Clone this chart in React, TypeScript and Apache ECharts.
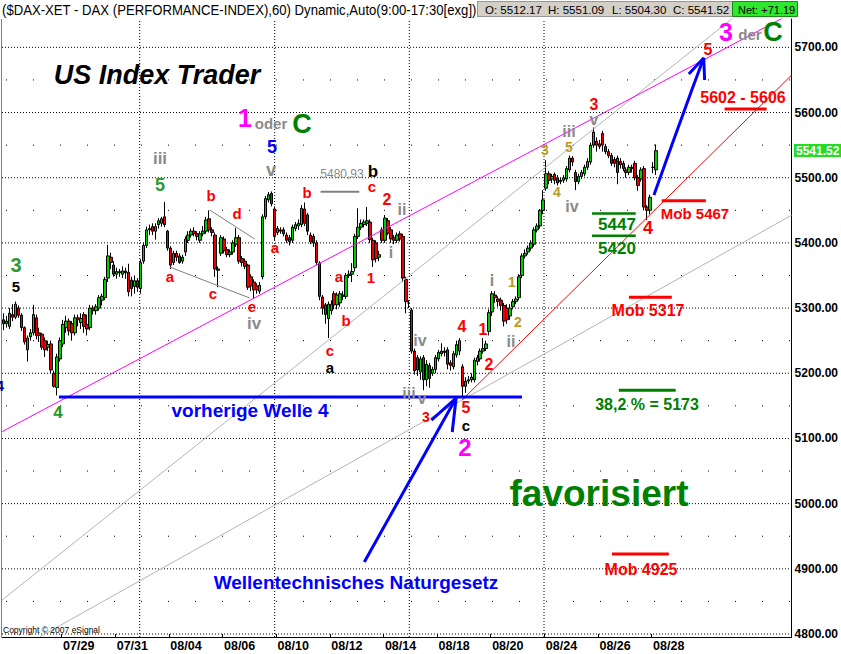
import React, { useEffect, useRef } from 'react';
import * as echarts from 'echarts';

// ---------- data ----------
const dateLabels = ['07/29', '07/31', '08/04', '08/06', '08/10', '08/12', '08/14', '08/18', '08/20', '08/24', '08/26', '08/28'];
const yTicks = [4800, 4900, 5000, 5100, 5200, 5300, 5400, 5500, 5600, 5700];
const halfLevels = [4850, 4950, 5050, 5150, 5250, 5350, 5450, 5550, 5650];

// hourly candles [open, close, low, high]
const ohlc: number[][] = [
  [5282, 5276, 5266, 5292], [5276, 5280, 5270, 5288], [5272, 5292, 5268, 5300], [5290, 5286, 5280, 5306],
  [5286, 5306, 5283, 5310], [5300, 5289, 5285, 5304], [5289, 5270, 5265, 5292], [5270, 5248, 5244, 5272],
  [5236, 5254, 5218, 5258], [5256, 5262, 5250, 5268], [5262, 5290, 5258, 5305], [5285, 5258, 5252, 5290],
  [5262, 5258, 5248, 5270], [5260, 5240, 5236, 5262], [5250, 5236, 5225, 5255], [5240, 5244, 5234, 5250],
  [5245, 5205, 5200, 5250], [5200, 5180, 5178, 5204], [5178, 5225, 5166, 5230], [5222, 5250, 5218, 5255],
  [5245, 5275, 5240, 5282], [5270, 5280, 5262, 5288], [5280, 5265, 5258, 5284], [5276, 5262, 5250, 5280],
  [5262, 5285, 5258, 5290], [5285, 5282, 5272, 5290], [5278, 5284, 5268, 5292], [5290, 5272, 5262, 5294],
  [5275, 5268, 5258, 5290], [5270, 5300, 5266, 5305], [5300, 5296, 5290, 5304], [5296, 5302, 5290, 5306],
  [5300, 5316, 5296, 5320], [5312, 5318, 5304, 5322], [5316, 5344, 5312, 5348], [5346, 5380, 5340, 5397],
  [5378, 5370, 5360, 5385], [5366, 5352, 5348, 5372], [5352, 5356, 5345, 5362], [5356, 5354, 5348, 5360],
  [5352, 5357, 5346, 5364], [5357, 5354, 5345, 5362], [5355, 5325, 5318, 5368], [5343, 5330, 5318, 5348],
  [5333, 5342, 5322, 5350], [5342, 5332, 5325, 5346], [5330, 5370, 5322, 5375], [5372, 5396, 5368, 5400],
  [5396, 5420, 5392, 5425], [5420, 5422, 5412, 5428], [5425, 5418, 5412, 5430], [5418, 5425, 5405, 5430],
  [5428, 5434, 5422, 5438], [5430, 5437, 5425, 5440], [5440, 5428, 5424, 5463], [5418, 5392, 5388, 5420],
  [5392, 5366, 5360, 5395], [5370, 5384, 5366, 5388], [5384, 5378, 5372, 5388], [5380, 5370, 5368, 5384],
  [5372, 5378, 5368, 5382], [5386, 5406, 5380, 5410], [5404, 5412, 5400, 5418], [5412, 5418, 5408, 5422],
  [5418, 5414, 5410, 5424], [5414, 5410, 5404, 5418], [5404, 5414, 5400, 5418], [5414, 5418, 5410, 5426],
  [5418, 5435, 5414, 5440], [5437, 5420, 5416, 5450], [5420, 5416, 5410, 5424], [5412, 5360, 5348, 5416],
  [5360, 5358, 5332, 5364], [5384, 5408, 5380, 5412], [5406, 5388, 5384, 5410], [5390, 5382, 5378, 5394],
  [5382, 5386, 5378, 5390], [5386, 5400, 5382, 5404], [5398, 5408, 5394, 5423], [5408, 5372, 5368, 5412],
  [5376, 5370, 5364, 5380], [5372, 5364, 5360, 5376], [5366, 5332, 5328, 5368], [5348, 5334, 5326, 5352],
  [5340, 5328, 5315, 5344], [5334, 5328, 5322, 5338], [5326, 5335, 5322, 5340], [5348, 5440, 5344, 5444],
  [5440, 5468, 5436, 5472], [5466, 5474, 5462, 5478], [5476, 5460, 5456, 5479], [5452, 5410, 5404, 5456],
  [5416, 5422, 5412, 5426], [5420, 5418, 5414, 5424], [5420, 5414, 5410, 5424], [5412, 5404, 5400, 5416],
  [5408, 5402, 5396, 5412], [5404, 5424, 5400, 5428], [5422, 5428, 5418, 5432], [5426, 5430, 5420, 5436],
  [5428, 5453, 5424, 5458], [5452, 5430, 5426, 5462], [5443, 5418, 5412, 5446], [5412, 5402, 5398, 5416],
  [5410, 5400, 5394, 5414], [5400, 5370, 5366, 5404], [5369, 5318, 5312, 5372], [5317, 5300, 5290, 5320],
  [5305, 5290, 5276, 5308], [5284, 5306, 5254, 5310], [5296, 5306, 5290, 5312], [5322, 5305, 5298, 5326],
  [5305, 5320, 5298, 5324], [5308, 5322, 5302, 5326], [5320, 5318, 5312, 5326], [5318, 5350, 5314, 5354],
  [5350, 5352, 5346, 5358], [5352, 5356, 5340, 5369], [5362, 5410, 5356, 5414], [5410, 5424, 5406, 5453],
  [5424, 5430, 5420, 5436], [5428, 5432, 5424, 5436], [5430, 5434, 5426, 5455], [5432, 5405, 5400, 5436],
  [5404, 5374, 5363, 5408], [5400, 5376, 5370, 5404], [5378, 5382, 5372, 5388], [5420, 5404, 5400, 5424],
  [5404, 5438, 5400, 5443], [5434, 5415, 5412, 5438], [5420, 5406, 5400, 5424], [5408, 5404, 5398, 5412],
  [5404, 5412, 5400, 5416], [5414, 5406, 5402, 5418], [5410, 5346, 5340, 5414], [5344, 5310, 5292, 5348],
  [5308, 5308, 5300, 5312], [5297, 5234, 5230, 5300], [5234, 5204, 5198, 5238], [5224, 5205, 5196, 5228],
  [5202, 5222, 5190, 5226], [5224, 5190, 5174, 5228], [5190, 5214, 5180, 5220], [5212, 5192, 5178, 5216],
  [5200, 5206, 5196, 5210], [5206, 5224, 5200, 5228], [5222, 5232, 5218, 5236], [5230, 5234, 5226, 5246],
  [5234, 5232, 5226, 5240], [5236, 5214, 5206, 5240], [5216, 5212, 5204, 5220], [5210, 5230, 5206, 5234],
  [5228, 5244, 5224, 5250], [5234, 5250, 5228, 5254], [5210, 5180, 5162, 5214], [5180, 5188, 5170, 5194],
  [5188, 5190, 5184, 5196], [5190, 5194, 5186, 5200], [5190, 5220, 5186, 5224], [5218, 5224, 5212, 5228],
  [5222, 5234, 5218, 5238], [5234, 5238, 5230, 5254], [5238, 5245, 5234, 5250], [5264, 5293, 5258, 5298],
  [5294, 5322, 5288, 5326], [5320, 5316, 5308, 5326], [5314, 5310, 5302, 5318], [5312, 5304, 5296, 5316],
  [5304, 5280, 5272, 5308], [5300, 5282, 5276, 5306], [5288, 5300, 5282, 5306], [5302, 5310, 5298, 5314],
  [5310, 5314, 5306, 5318], [5316, 5348, 5312, 5352], [5350, 5380, 5346, 5384], [5380, 5384, 5376, 5390],
  [5386, 5392, 5382, 5396], [5392, 5400, 5388, 5404], [5398, 5420, 5394, 5424], [5420, 5426, 5416, 5430],
  [5426, 5450, 5422, 5452], [5450, 5466, 5444, 5481], [5484, 5506, 5480, 5527], [5506, 5496, 5490, 5510],
  [5498, 5502, 5492, 5506], [5505, 5496, 5490, 5508], [5500, 5492, 5488, 5504], [5494, 5496, 5490, 5500],
  [5496, 5500, 5492, 5504], [5498, 5514, 5494, 5518], [5512, 5530, 5508, 5534], [5530, 5524, 5518, 5533],
  [5508, 5494, 5481, 5512], [5494, 5502, 5490, 5506], [5502, 5508, 5498, 5512], [5506, 5516, 5502, 5520],
  [5516, 5525, 5512, 5530], [5524, 5550, 5520, 5554], [5550, 5570, 5546, 5577], [5556, 5550, 5540, 5562],
  [5552, 5548, 5544, 5558], [5568, 5550, 5540, 5572], [5548, 5540, 5536, 5552], [5540, 5534, 5530, 5544],
  [5534, 5522, 5518, 5538], [5528, 5522, 5516, 5532], [5530, 5508, 5490, 5534], [5525, 5520, 5514, 5530],
  [5522, 5514, 5510, 5526], [5512, 5508, 5500, 5516], [5508, 5516, 5504, 5520], [5516, 5514, 5508, 5520],
  [5522, 5500, 5496, 5526], [5500, 5488, 5480, 5504], [5498, 5512, 5494, 5516], [5514, 5455, 5450, 5518],
  [5455, 5450, 5435, 5458], [5450, 5470, 5444, 5474], [5516, 5516, 5507, 5524], [5512.17, 5541.52, 5504.3, 5551.09],
];

const lastBar = { open: 5512.17, high: 5551.09, low: 5504.3, close: 5541.52, net: 71.19 };

// ---------- layout constants ----------
const N = 265; // slots on the time axis (incl. empty space on the right)
const Y_MIN = 4795.4;
const Y_MAX = 5743.5;
const FF = '"Liberation Sans", Arial, Helvetica, sans-serif';
const FN = '"Liberation Sans Narrow", "Arial Narrow", "Liberation Sans", sans-serif';
const categories = Array.from({ length: N }, (_, i) => String(i));
const labelAt = (i: number) => i >= 20 && i <= 218 && (i - 20) % 18 === 0;

// annotation lines in [slot, price]
const magentaLine = [[0, 5110.4], [265, 5752.3]];
const greyUpper = [[0, 4852], [253.9, 5776.4]];
const greyLower = [[12.7, 4795.6], [265, 5442.5]];
const redLine = [[154.4, 5159], [265, 5657.5]];
const welle4 = [[19.1, 5163.6], [174.5, 5163.6]];
const triLow = [[56.3, 5363], [83.1, 5315.5]];
const triHigh = [[69.7, 5450.5], [84.8, 5406]];
const lvl5480 = [[106.9, 5478.6], [119.9, 5478.6]];
const lvl5447 = [[198.0, 5445], [212.7, 5445]];
const lvl5420 = [[198.0, 5411], [212.7, 5411]];
const mob5467 = [[221.4, 5464.7], [236.2, 5464.7]];
const mob5317 = [[210.4, 5316.5], [224.8, 5316.5]];
const lvl5602 = [[242.5, 5605.4], [256.6, 5605.4]];
const fib382 = [[207.0, 5174], [226.1, 5174]];
const mob4925 = [[204.7, 4922.8], [223.8, 4922.8]];
const arrowUp = [[218.8, 5473.5], [224.8, 5550.2], [231.5, 5634.5], [235.5, 5683.6]];
const arrowUpHead = [[230.5, 5659], [235.5, 5683.6], [235.8, 5649.9]];
const arrowLow = [[121.6, 4910.5], [152.4, 5162]];
const arrowLowHead = [[144.1, 5128.3], [152.4, 5162], [151.1, 5109.9]];
const vGrid = [46.2, 91.5, 136.7, 181.9];

const GREY = '#8a8a8a';
const OLIVE = '#bb9a22';
const RED = '#ff0000';
const GREEN = '#008000';
const LGREEN = '#2f9a2f';
const MAG = '#ff00ff';
const BLUE = '#0000ff';

// [x, y, text, color, size, weight]
const notes: [number, number, string, string, number, string?][] = [
  [16, 265, '3', LGREEN, 20], [16, 286, '5', '#000', 15], [58, 412, '4', '#229922', 17], [0, 385, '4', '#000080', 15],
  [160, 158, 'iii', GREY, 17], [160, 185, '5', LGREEN, 18],
  [245, 118, '1', MAG, 25], [271, 123, 'oder', GREY, 15], [302, 124, 'C', GREEN, 27],
  [272, 147, '5', BLUE, 18], [271, 170, 'v', GREY, 18],
  [211, 195, 'b', RED, 15], [237, 213, 'd', RED, 15], [170, 276, 'a', RED, 15], [213, 293, 'c', RED, 15],
  [252, 306, 'e', RED, 15], [254, 323, 'iv', GREY, 17], [275, 247, 'a', RED, 15], [307, 192, 'b', RED, 15],
  [342, 174, '5480,93', GREY, 12, 'normal'], [373, 171, 'b', '#000', 17], [372, 186, 'c', RED, 15],
  [387, 199, '2', RED, 16], [402, 209, 'ii', GREY, 16], [391, 252, 'i', GREY, 16],
  [339, 276, 'a', RED, 15], [371, 277, '1', RED, 15], [346, 320, 'b', RED, 15], [330, 350, 'c', RED, 15],
  [330, 367, 'a', '#000', 15],
  [420, 340, 'iv', GREY, 16], [409, 393, 'iii', GREY, 16], [422, 398, 'v', GREY, 16], [426, 417, '3', RED, 14],
  [466, 407, '5', RED, 16], [466, 425, 'c', '#000', 15], [465, 447, '2', MAG, 24],
  [462, 326, '4', RED, 16], [483, 329, '1', RED, 16], [489, 364, '2', RED, 16], [511, 341, 'ii', GREY, 16],
  [518, 322, '2', OLIVE, 14], [492, 280, 'i', GREY, 16], [512, 282, '1', OLIVE, 14],
  [545, 150, '3', OLIVE, 14], [569, 147, '5', OLIVE, 14], [557, 192, '4', OLIVE, 14], [572, 206, 'iv', GREY, 16],
  [569, 131, 'iii', GREY, 16], [594, 119, 'v', GREY, 16], [594, 104, '3', RED, 16],
  [617, 224, '5447', GREEN, 17], [617, 248, '5420', GREEN, 17], [648, 228, '4', RED, 18],
  [695, 213, 'Mob 5467', RED, 15], [648, 310, 'Mob 5317', RED, 16], [743, 97, '5602 - 5606', RED, 16],
  [708, 49, '5', RED, 16], [726, 32, '3', MAG, 25], [750, 34, 'der', GREY, 15], [773, 32, 'C', GREEN, 27],
  [647, 404, '38,2 % = 5173', GREEN, 16], [599, 493, 'favorisiert', GREEN, 37], [641, 569, 'Mob 4925', RED, 16],
  [250, 410, 'vorherige Welle 4', BLUE, 19], [356, 582, 'Wellentechnisches Naturgesetz', BLUE, 19],
];

function seg(data: number[][], color: string, width: number, type: any = 'solid', z = 3, dashOffset = 0) {
  return {
    type: 'line', xAxisIndex: 1, yAxisIndex: 0, data, symbol: 'none', silent: true, z,
    lineStyle: { color, width, type, dashOffset }, clip: true, animation: false,
  };
}

function buildOption() {
  const series: any[] = [];
  yTicks.forEach((p) => series.push(seg([[0, p], [N, p]], '#000', 1, [1, 2], 1)));
  halfLevels.forEach((p) => series.push(seg([[0, p], [N, p]], '#000', 1, [1, 26], 1, 23)));
  vGrid.forEach((v) => series.push(seg([[v, Y_MIN], [v, Y_MAX]], '#000', 1, [1, 2], 1)));
  series.push({
    type: 'candlestick', xAxisIndex: 0, yAxisIndex: 0, data: ohlc, barWidth: 3, z: 2,
    itemStyle: { color: '#00cc00', color0: '#ee0000', borderColor: '#000', borderColor0: '#000', borderWidth: 1 },
  });
  series.push(seg(greyUpper, '#b4b4b4', 1));
  series.push(seg(greyLower, '#b4b4b4', 1));
  series.push(seg(magentaLine, MAG, 1));
  series.push(seg(redLine, RED, 1));
  series.push(seg(welle4, BLUE, 3, 'solid', 4));
  series.push(seg(triLow, '#808080', 1));
  series.push(seg(triHigh, '#808080', 1));
  series.push(seg(lvl5480, '#808080', 2));
  series.push(seg(lvl5447, GREEN, 2.5));
  series.push(seg(lvl5420, GREEN, 2.5));
  series.push(seg(mob5467, RED, 3));
  series.push(seg(mob5317, RED, 3));
  series.push(seg(lvl5602, RED, 3));
  series.push(seg(fib382, GREEN, 3));
  series.push(seg(mob4925, RED, 3));
  series.push(seg(arrowUp, BLUE, 3, 'solid', 5));
  series.push(seg(arrowUpHead, BLUE, 3, 'solid', 5));
  series.push(seg(arrowLow, BLUE, 3, 'solid', 5));
  series.push(seg(arrowLowHead, BLUE, 3, 'solid', 5));

  const txt = (x: number, y: number, text: string, fill: string, size: number, weight = 'bold', extra: any = {}) => ({
    type: 'text', x, y, z: 100,
    style: {
      text, fill, font: `${weight} ${size}px ${FF}`,
      align: 'center', verticalAlign: 'middle', textAlign: 'center', textVerticalAlign: 'middle', ...extra,
    },
  });

  const priceY = 150.6;
  const graphic: any[] = [
    { type: 'line', z: 50, shape: { x1: 1.5, y1: 19, x2: 1.5, y2: 637 }, style: { stroke: '#808080', lineWidth: 1 } },
    {
      type: 'text', x: 2, y: 10, scaleX: 0.877, z: 100,
      style: {
        text: '($DAX-XET - DAX (PERFORMANCE-INDEX),60) Dynamic,Auto(9:00-17:30[exg])', fill: '#000',
        font: `15px ${FF}`, align: 'left', verticalAlign: 'middle', textAlign: 'left', textVerticalAlign: 'middle',
      },
    },
    { type: 'rect', z: 90, shape: { x: 477.5, y: 1.5, width: 255, height: 15 }, style: { fill: '#d4d0c8', stroke: '#444', lineWidth: 1, lineDash: [1, 1] } },
    txt(485, 9.5, `O: ${lastBar.open.toFixed(2)}`, '#000', 11.5, 'normal', { align: 'left', textAlign: 'left' }),
    txt(548, 9.5, `H: ${lastBar.high.toFixed(2)}`, '#000', 11.5, 'normal', { align: 'left', textAlign: 'left' }),
    txt(612, 9.5, `L: ${lastBar.low.toFixed(2)}`, '#000', 11.5, 'normal', { align: 'left', textAlign: 'left' }),
    txt(673, 9.5, `C: ${lastBar.close.toFixed(2)}`, '#000', 11.5, 'normal', { align: 'left', textAlign: 'left' }),
    { type: 'rect', z: 90, shape: { x: 732.5, y: 1.5, width: 65, height: 15 }, style: { fill: '#2ee82e', stroke: '#1a8a1a', lineWidth: 1 } },
    txt(738, 9.5, `Net: +${lastBar.net.toFixed(2)}`, '#000', 11, 'normal', { align: 'left', textAlign: 'left' }),
    { type: 'rect', z: 90, shape: { x: 794, y: priceY - 6.5, width: 47, height: 13 }, style: { fill: '#22dd22' } },
    txt(796, priceY, lastBar.close.toFixed(2), '#fff', 12, 'bold', { align: 'left', textAlign: 'left' }),
    txt(157, 75, 'US Index Trader', '#000', 27, 'italic bold'),
    txt(3, 630, 'Copyright © 2007 eSignal', '#000', 8.5, 'normal', { align: 'left', textAlign: 'left' }),
  ];
  notes.forEach(([x, y, t, c, s, w]) => graphic.push(txt(x, y, t, c, s, w || 'bold')));

  return {
    animation: false,
    backgroundColor: '#ffffff',
    grid: { left: 2, right: 48, top: 19, bottom: 17, containLabel: false },
    xAxis: [
      {
        type: 'category', data: categories, boundaryGap: true,
        axisLine: { onZero: false, lineStyle: { color: '#000', width: 1 } },
        axisTick: { show: true, inside: true, length: 3, interval: (i: number) => labelAt(i), lineStyle: { color: '#000' } },
        axisLabel: {
          interval: (i: number) => labelAt(i),
          formatter: (_v: string, i: number) => dateLabels[(i - 20) / 18] || '',
          align: 'left', margin: 2, color: '#000', fontFamily: FN, fontSize: 12.5, fontWeight: 'bold',
        },
        splitLine: { show: false },
      },
      { type: 'value', min: 0, max: N, show: false },
    ],
    yAxis: {
      type: 'value', position: 'right', min: Y_MIN, max: Y_MAX,
      axisLine: { show: true, onZero: false, lineStyle: { color: '#000', width: 1 } },
      axisTick: { show: false },
      axisLabel: {
        customValues: yTicks, formatter: (v: number) => v.toFixed(2), margin: 3,
        color: '#000', fontFamily: FF, fontSize: 12, fontWeight: 'bold',
      },
      splitLine: { show: false },
    },
    series,
    graphic,
  };
}

export default function App() {
  const ref = useRef<HTMLDivElement>(null);
  useEffect(() => {
    const chart = echarts.init(ref.current!, null, { renderer: 'svg' });
    chart.setOption(buildOption() as any);
    return () => chart.dispose();
  }, []);
  return <div ref={ref} style={{ position: 'absolute', left: 0, top: 0, width: 841, height: 654 }} />;
}
